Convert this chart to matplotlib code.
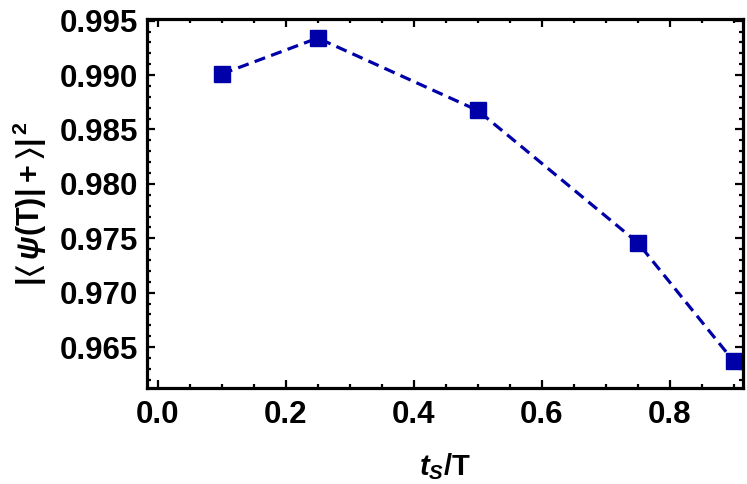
import matplotlib
matplotlib.use('Agg')
import matplotlib.pyplot as plt
from matplotlib.ticker import MultipleLocator, FormatStrFormatter

plt.rcParams['font.family'] = ['Liberation Sans', 'DejaVu Sans']
plt.rcParams['font.weight'] = 'bold'
plt.rcParams['mathtext.fontset'] = 'custom'
plt.rcParams['mathtext.rm'] = 'Liberation Sans:bold'
plt.rcParams['mathtext.it'] = 'Liberation Sans:bold:italic'
plt.rcParams['mathtext.bf'] = 'Liberation Sans:bold'
plt.rcParams['mathtext.fallback'] = 'stixsans'

# data
ts = [0.1, 0.25, 0.5, 0.75, 0.9]
fid = [0.9901, 0.9934, 0.98675, 0.9746, 0.9637]

fig = plt.figure(figsize=(7.47, 4.84), dpi=100)
ax = fig.add_axes([0.1964, 0.199, 0.7978, 0.7617])

ax.plot(ts, fid, color='#0000a8', lw=2.3, ls=(0, (3.5, 2)),
        marker='s', ms=11, mfc='#0000a8', mec='#0000a8')

ax.set_xlim(-0.0172, 0.914)
ax.set_ylim(0.96127, 0.99515)
ax.xaxis.set_major_locator(MultipleLocator(0.2))
ax.xaxis.set_minor_locator(MultipleLocator(0.05))
ax.yaxis.set_major_locator(MultipleLocator(0.005))
ax.yaxis.set_minor_locator(MultipleLocator(0.001))
ax.xaxis.set_major_formatter(FormatStrFormatter('%.1f'))
ax.yaxis.set_major_formatter(FormatStrFormatter('%.3f'))

for s in ax.spines.values():
    s.set_linewidth(2.3)
ax.tick_params(which='both', direction='in', top=True, right=True,
               width=1.6, labelsize=22.5)
ax.tick_params(which='major', length=5.5)
ax.tick_params(which='minor', length=3)
ax.tick_params(axis='x', pad=9)
ax.tick_params(axis='y', pad=6)
for lab in ax.get_xticklabels() + ax.get_yticklabels():
    lab.set_fontweight('bold')

ax.set_xlabel(r'$t_S$/T', fontsize=21, fontweight='bold', labelpad=15)
ax.set_ylabel(r'$|\langle\,\psi(\mathrm{T})|+\rangle|^{\,2}$', fontsize=22,
              fontweight='bold', labelpad=8)

fig.savefig('out.png', dpi=100)
